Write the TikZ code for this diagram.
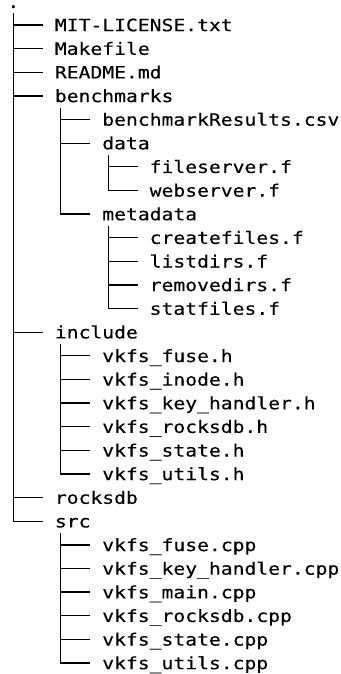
\documentclass[tikz,border=0pt]{standalone}
\usepackage{fontspec}
\newfontfamily\treefont[FakeStretch=1.158,FakeBold=0.25]{DejaVu Sans Mono}

% column width of the monospaced font, row pitch, and offsets
\def\cw{11.85}
\def\rowpitch{23.63}

\tikzset{
  entry/.style={anchor=base west, inner sep=0pt, outer sep=0pt,
                font=\treefont\fontsize{17}{20}\selectfont, text=black},
  tree/.style={draw=black, line width=1.3pt, line cap=butt},
}

% \entry{name}{level}{row}{label}
\newcommand{\entry}[4]{%
  \node[entry] (#1) at ({7.5+4*\cw*#2}, {7.57+\rowpitch*#3}) {#4};}
% horizontal branch in front of an entry
\newcommand{\branch}[1]{%
  \draw[tree] ([shift={(-3.5*\cw,-6.2)}]#1.base west) -- ([shift={(-\cw,-6.2)}]#1.base west);}
% vertical stem below a folder, ending in the branch of its last entry
\newcommand{\stem}[2]{%
  \draw[tree] ([shift={(0.5*\cw,5.6)}]#1.base west) |- ([shift={(-\cw,-6.2)}]#2.base west);}

\begin{document}
\begin{tikzpicture}[x=1pt,y=-1pt]
  \useasboundingbox (0,0) rectangle (340,674);

  % root of the tree
  \node[entry] (root) at (7.5, 8.0) {.};
  \coordinate (rootstem) at ({7.5+0.5*\cw}, 13.2);

  \entry{mit}{1}{1}{MIT-LICENSE.txt}
  \entry{makefile}{1}{2}{Makefile}
  \entry{readme}{1}{3}{README.md}
  \entry{bench}{1}{4}{benchmarks}
    \entry{results}{2}{5}{benchmarkResults.csv}
    \entry{data}{2}{6}{data}
      \entry{fileserver}{3}{7}{fileserver.f}
      \entry{webserver}{3}{8}{webserver.f}
    \entry{metadata}{2}{9}{metadata}
      \entry{createfiles}{3}{10}{createfiles.f}
      \entry{listdirs}{3}{11}{listdirs.f}
      \entry{removedirs}{3}{12}{removedirs.f}
      \entry{statfiles}{3}{13}{statfiles.f}
  \entry{include}{1}{14}{include}
    \entry{hfuse}{2}{15}{vkfs\_fuse.h}
    \entry{hinode}{2}{16}{vkfs\_inode.h}
    \entry{hkey}{2}{17}{vkfs\_key\_handler.h}
    \entry{hrocks}{2}{18}{vkfs\_rocksdb.h}
    \entry{hstate}{2}{19}{vkfs\_state.h}
    \entry{hutils}{2}{20}{vkfs\_utils.h}
  \entry{rocksdb}{1}{21}{rocksdb}
  \entry{src}{1}{22}{src}
    \entry{cfuse}{2}{23}{vkfs\_fuse.cpp}
    \entry{ckey}{2}{24}{vkfs\_key\_handler.cpp}
    \entry{cmain}{2}{25}{vkfs\_main.cpp}
    \entry{crocks}{2}{26}{vkfs\_rocksdb.cpp}
    \entry{cstate}{2}{27}{vkfs\_state.cpp}
    \entry{cutils}{2}{28}{vkfs\_utils.cpp}

  % top level
  \draw[tree] (rootstem) |- ([shift={(-\cw,-6.2)}]src.base west);
  \foreach \n in {mit,makefile,readme,bench,include,rocksdb} {\branch{\n}}

  % benchmarks
  \stem{bench}{metadata}
  \foreach \n in {results,data} {\branch{\n}}
  \stem{data}{webserver}
  \branch{fileserver}
  \stem{metadata}{statfiles}
  \foreach \n in {createfiles,listdirs,removedirs} {\branch{\n}}

  % include
  \stem{include}{hutils}
  \foreach \n in {hfuse,hinode,hkey,hrocks,hstate} {\branch{\n}}

  % src
  \stem{src}{cutils}
  \foreach \n in {cfuse,ckey,cmain,crocks,cstate} {\branch{\n}}
\end{tikzpicture}
\end{document}
